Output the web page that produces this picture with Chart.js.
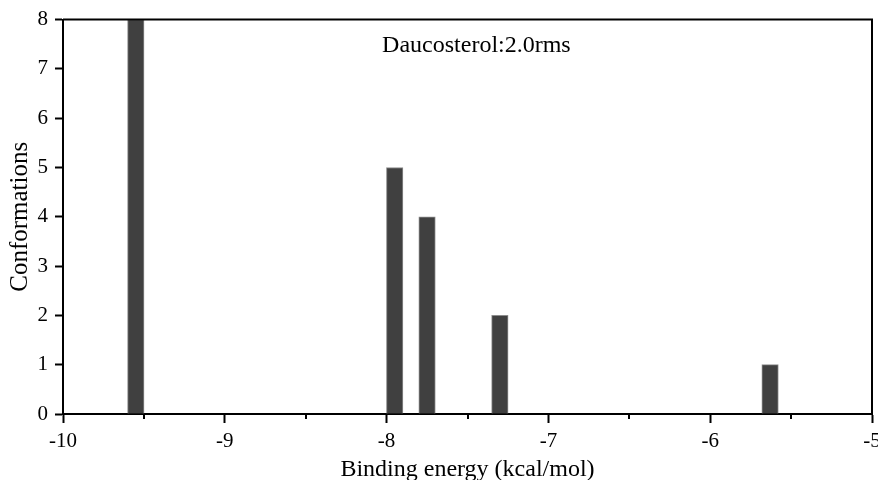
<!DOCTYPE html>
<html>
<head>
<meta charset="utf-8">
<script src="https://cdn.jsdelivr.net/npm/chart.js@4"></script>
<style>
  html, body { margin: 0; padding: 0; background: #fff; }
  canvas { display: block; }
</style>
</head>
<body>
<canvas id="chart" width="878" height="480"></canvas>
<script>
// binding energy of each cluster and how many conformations fell in it
const energies = [-9.55, -7.95, -7.75, -7.3, -5.63];
const counts = [8, 5, 4, 2, 1];
const label = 'Daucosterol:2.0rms';

const serif = 'Liberation Serif';

// box round the plot, half-unit minor ticks and the label in the corner
const extras = {
  id: 'extras',
  afterDraw(chart) {
    const { ctx, chartArea: a, scales } = chart;
    ctx.save();
    ctx.strokeStyle = '#000';
    ctx.lineWidth = 2;
    ctx.beginPath();
    ctx.moveTo(a.left, a.top);
    ctx.lineTo(a.right, a.top);
    ctx.lineTo(a.right, a.bottom);
    ctx.stroke();

    ctx.beginPath();
    for (let v = -9.5; v < -5; v += 1) {
      const px = Math.round(scales.x.getPixelForValue(v));
      ctx.moveTo(px, a.bottom);
      ctx.lineTo(px, a.bottom + 5);
    }
    ctx.stroke();

    ctx.fillStyle = '#000';
    ctx.font = '24px "' + serif + '"';
    ctx.textAlign = 'center';
    ctx.textBaseline = 'middle';
    ctx.fillText(label, a.left + (a.right - a.left) * 0.511, a.top + 26);
    ctx.restore();
  }
};

new Chart(document.getElementById('chart'), {
  type: 'bar',
  data: {
    datasets: [{
      data: energies.map((e, i) => ({ x: e, y: counts[i] })),
      backgroundColor: '#404040',
      borderColor: '#8c8c8c',
      borderWidth: 1,
      barThickness: 16.5
    }]
  },
  options: {
    responsive: false,
    animation: false,
    devicePixelRatio: 1,
    layout: { padding: { left: 0, right: 6, top: 19, bottom: 0 } },
    plugins: { legend: { display: false }, tooltip: { enabled: false } },
    scales: {
      x: {
        type: 'linear',
        min: -10,
        max: -5,
        offset: false,
        afterFit(s) { s.height = 66; s.paddingLeft = 0; s.paddingRight = 0; },
        border: { color: '#000', width: 2 },
        grid: {
          offset: false,
          drawOnChartArea: false,
          tickLength: 9,
          tickWidth: 2,
          tickColor: c => Number.isInteger(c.tick && c.tick.value) ? '#000' : 'rgba(0,0,0,0)'
        },
        ticks: {
          stepSize: 0.5,
          autoSkip: false,
          maxRotation: 0,
          padding: 6,
          color: '#000',
          font: { family: serif, size: 21 },
          callback: v => Number.isInteger(v) ? String(v) : ''
        },
        title: {
          display: true,
          text: 'Binding energy (kcal/mol)',
          color: '#000',
          font: { family: serif, size: 24, lineHeight: 1 },
          padding: { top: 0, bottom: -2 }
        }
      },
      y: {
        min: 0,
        max: 8,
        afterFit(s) { s.width = 63; },
        border: { color: '#000', width: 2 },
        grid: { drawOnChartArea: false, tickLength: 8, tickWidth: 2, tickColor: '#000' },
        ticks: {
          stepSize: 1,
          padding: 7,
          color: '#000',
          font: { family: serif, size: 21 }
        },
        title: {
          display: true,
          text: 'Conformations',
          color: '#000',
          font: { family: serif, size: 25, lineHeight: 1 },
          padding: { top: 8, bottom: 0 }
        }
      }
    }
  },
  plugins: [extras]
});
</script>
</body>
</html>
